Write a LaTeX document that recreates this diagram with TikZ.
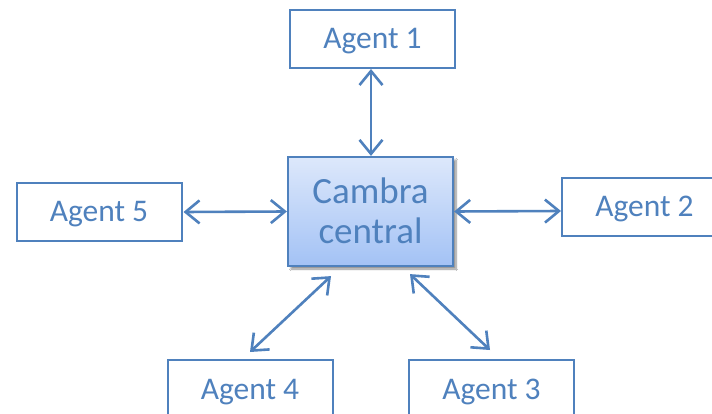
\documentclass[tikz,border=0pt]{standalone}
\usepackage{fontspec}
\setmainfont{Carlito}
\usetikzlibrary{arrows.meta,calc,shadows.blur}
\definecolor{officeblue}{HTML}{4F81BD}
\definecolor{topfill}{HTML}{DDE8FB}
\definecolor{botfill}{HTML}{A3C2F5}
\tikzset{
  agent/.style={draw=officeblue, line width=2pt, fill=white,
    minimum width=165pt, minimum height=58pt, inner sep=0pt,
    text height=20pt, text depth=0pt,
    text=officeblue, font=\fontsize{31.5}{36}\selectfont},
  hub/.style={draw=officeblue, line width=2.2pt,
    top color=topfill, bottom color=botfill,
    minimum width=165pt, minimum height=109pt, inner sep=0pt,
    text height=64pt, text depth=0pt,
    text=officeblue, align=center, font=\fontsize{37}{40}\selectfont,
    blur shadow={shadow xshift=3pt, shadow yshift=-3pt, shadow opacity=45, shadow blur steps=8}},
  link/.style={draw=officeblue, line width=2.6pt,
    {Straight Barb[length=14pt,width=23pt]}-{Straight Barb[length=14pt,width=23pt]}}
}
\begin{document}
\begin{tikzpicture}[x=1pt,y=-1pt]
  \useasboundingbox (0,0) rectangle (712,414);
  \fill[white] (0,0) rectangle (712,414);
  \clip (0,0) rectangle (712,414);

  \node[hub] (c) at (370.5,211.5) {Cambra\\central};
  \node[agent] (a1) at (372.5,39) {Agent 1};
  \node[agent] (a2) at (644.5,207) {Agent 2};
  \node[agent] (a3) at (491.5,389) {Agent 3};
  \node[agent] (a4) at (250,389) {Agent 4};
  \node[agent] (a5) at (99,212) {Agent 5};

  % links between the hub and each agent
  \draw[link] ($(a1.south)+(-1.5,0)$) -- ($(c.north)+(0.5,0)$);
  \draw[link] ($(a5.east)+(1,0)$) -- (c.west);
  \draw[link] (c.east) -- ($(a2.west)+(0,4)$);
  \draw[link] ($(a4.north)+(0,-7)$) -- ($(c.south)+(-39.5,9)$);
  \draw[link] ($(c.south)+(39.5,7)$) -- ($(a3.north)+(-1.5,-9)$);
\end{tikzpicture}
\end{document}
